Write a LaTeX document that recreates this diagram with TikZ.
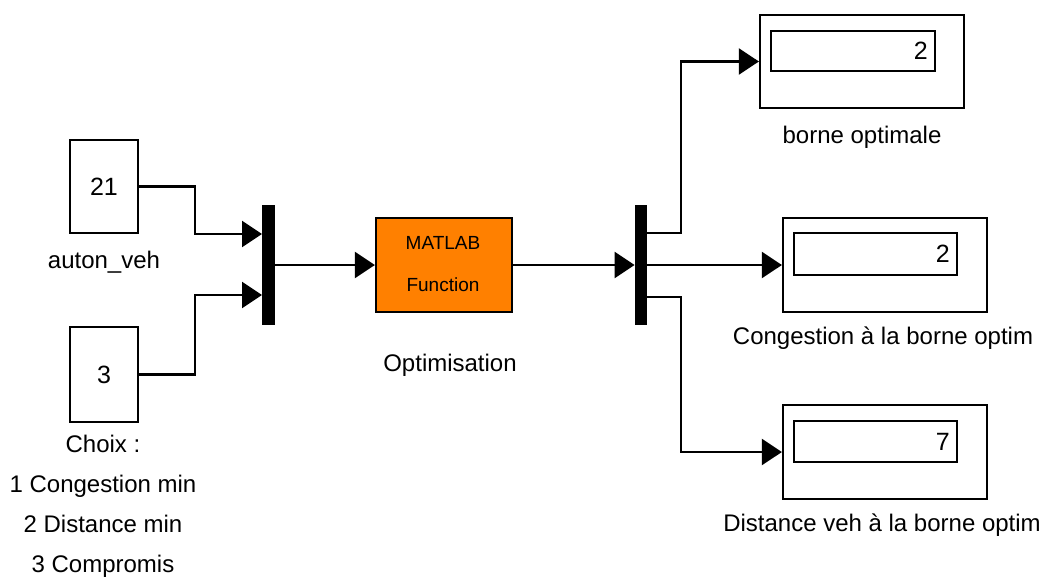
\documentclass[tikz,border=0pt]{standalone}
\usepackage{fontspec}
\setmainfont{Liberation Sans}
\usetikzlibrary{arrows.meta,calc}
\definecolor{matorange}{RGB}{255,128,0}
\begin{document}
\begin{tikzpicture}[x=0.5pt,y=-0.5pt,
  blk/.style={draw,line width=1.1pt,inner sep=0pt},
  wire/.style={line width=1.1pt},
  arr/.style={wire,-{Triangle[length=10pt,width=13pt]}},
  bar/.style={fill=black,draw=none,inner sep=0pt,minimum width=6.5pt,minimum height=60pt},
  lbl/.style={font=\fontsize{12}{14}\selectfont,inner sep=0pt},
  num/.style={font=\fontsize{12.5}{14}\selectfont,inner sep=0pt},
]
\useasboundingbox (0,0) rectangle (1047,583);

% constant blocks
\node[blk,minimum width=34pt,minimum height=46.5pt] (c21) at (104,186.5) {};
\node[num] at (c21) {21};
\node[lbl] (lab21) at (104,262) {auton\_veh};

\node[blk,minimum width=34pt,minimum height=47.5pt] (c3) at (104,374.5) {};
\node[num] at (c3) {3};
\node[lbl,align=center,anchor=north,font=\fontsize{12}{20}\selectfont] (lab3) at (103,435)
  {Choix :\\1 Congestion min\\2 Distance min\\3 Compromis};

% mux
\node[bar] (mux) at (268.5,265) {};

% MATLAB function
\node[blk,fill=matorange,minimum width=68pt,minimum height=47pt] (fcn) at (444,265) {};
\node[font=\fontsize{9.5}{10}\selectfont,inner sep=0pt] (fcn1) at (443,243) {MATLAB};
\node[font=\fontsize{9.5}{10}\selectfont,inner sep=0pt] (fcn2) at (443,285) {Function};
\node[lbl] (labfcn) at (450,365) {Optimisation};

% demux
\node[bar,minimum width=6pt] (demux) at (641,265) {};

% displays
\node[blk,minimum width=102pt,minimum height=46.5pt] (d1) at (862,61.5) {};
\node[blk,minimum width=82pt,minimum height=20pt] (d1i) at (853,51) {};
\node[num,anchor=east] at ([xshift=-4pt]d1i.east) {2};
\node[lbl] (labd1) at (862,137) {borne optimale};

\node[blk,minimum width=102pt,minimum height=47pt] (d2) at (885,265) {};
\node[blk,minimum width=81.5pt,minimum height=21pt] (d2i) at (875.5,254) {};
\node[num,anchor=east] at ([xshift=-4pt]d2i.east) {2};
\node[lbl] (labd2) at (883,338) {Congestion à la borne optim};

\node[blk,minimum width=102pt,minimum height=47pt] (d3) at (885,452) {};
\node[blk,minimum width=81.5pt,minimum height=20.5pt] (d3i) at (875.5,441.5) {};
\node[num,anchor=east] at ([xshift=-4pt]d3i.east) {7};
\node[lbl] (labd3) at (882,525) {Distance veh à la borne optim};

% connectors
\coordinate (m1) at (262,234);
\coordinate (m2) at (262,295);
\draw[arr] (c21.east) -- (195,186.5) |- (m1);
\draw[arr] (c3.east) -- (195,374.5) |- (m2);
\draw[arr] (mux.east) -- (fcn.west);
\draw[arr] (fcn.east) -- (demux.west);

\coordinate (o1) at (647,233);
\coordinate (o3) at (647,297);
\draw[arr] (o1) -- (681,233) |- (d1.west);
\draw[arr] (demux.east) -- (d2.west);
\draw[arr] (o3) -- (681,297) |- (d3.west);
\end{tikzpicture}
\end{document}
